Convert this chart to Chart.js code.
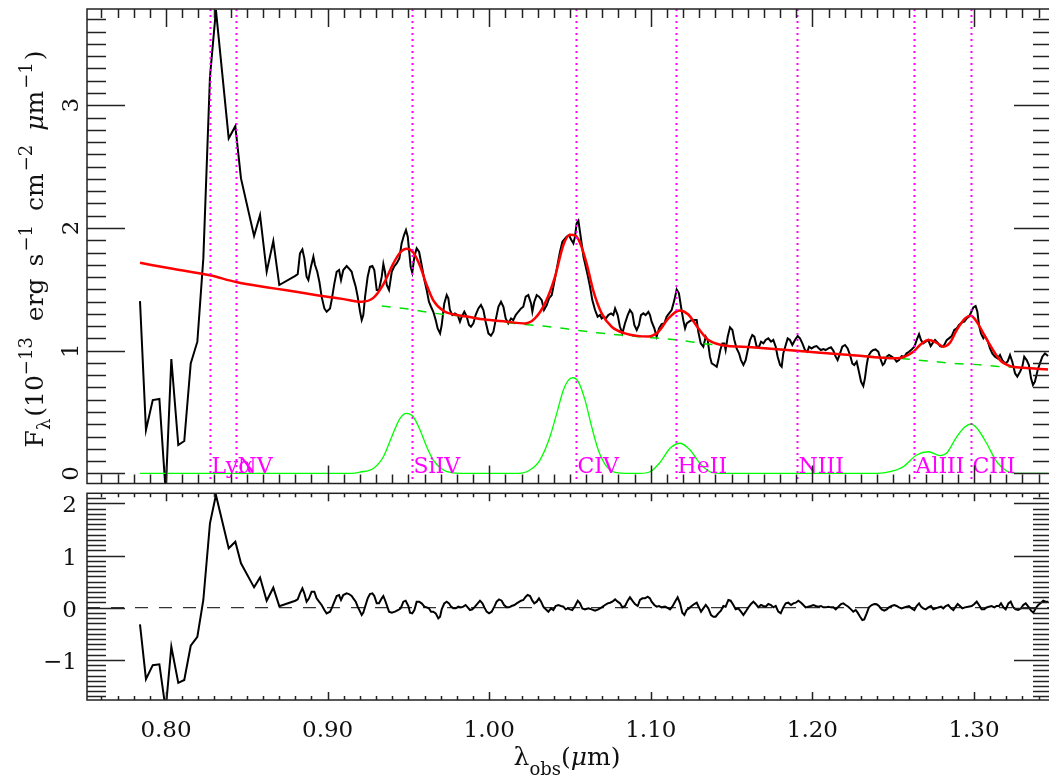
<!DOCTYPE html>
<html>
<head>
<meta charset="utf-8">
<title>Spectrum fit</title>
<script src="https://cdn.jsdelivr.net/npm/chart.js@4.4.0/dist/chart.umd.min.js"></script>
<style>
  html, body { margin: 0; padding: 0; background: #fff; width: 1049px; height: 780px; overflow: hidden; }
  canvas.panel { position: absolute; left: 0; top: 0; }
</style>
</head>
<body>
<canvas id="specChart" class="panel" width="1056" height="780"></canvas>
<canvas id="residChart" class="panel" width="1056" height="780"></canvas>
<script>
/* ---- observed spectrum (micron, 1e-13 erg/s/cm2/um) ---- */
const specWave = [
  0.7839,0.7876,0.7918,0.7959,0.7998,0.8033,0.8076,0.8113,0.8153,0.8194,
  0.8231,0.8272,0.8309,0.8388,0.8429,0.8464,0.8545,0.8582,0.8623,0.8664,
  0.8701,0.8800,0.8815,0.8829,0.8844,0.8856,0.8870,0.8881,0.8897,0.8912,
  0.8922,0.8936,0.8949,0.8963,0.8980,0.8994,0.9015,0.9025,0.9042,0.9056,
  0.9071,0.9083,0.9097,0.9118,0.9132,0.9149,0.9159,0.9174,0.9186,0.9201,
  0.9211,0.9221,0.9232,0.9248,0.9262,0.9277,0.9289,0.9304,0.9318,0.9335,
  0.9345,0.9355,0.9366,0.9380,0.9397,0.9411,0.9427,0.9444,0.9458,0.9473,
  0.9485,0.9496,0.9504,0.9514,0.9524,0.9537,0.9551,0.9566,0.9582,0.9599,
  0.9613,0.9627,0.9640,0.9654,0.9669,0.9681,0.9696,0.9706,0.9722,0.9737,
  0.9747,0.9757,0.9772,0.9788,0.9805,0.9819,0.9830,0.9846,0.9861,0.9875,
  0.9887,0.9902,0.9916,0.9933,0.9949,0.9964,0.9978,0.9995,1.0011,1.0026,
  1.0040,1.0057,1.0073,1.0088,1.0102,1.0118,1.0135,1.0149,1.0164,1.0180,
  1.0197,1.0211,1.0226,1.0242,1.0259,1.0267,1.0279,1.0294,1.0308,1.0325,
  1.0339,1.0356,1.0370,1.0387,1.0397,1.0411,1.0428,1.0438,1.0453,1.0465,
  1.0479,1.0494,1.0506,1.0521,1.0531,1.0541,1.0552,1.0562,1.0572,1.0583,
  1.0593,1.0609,1.0624,1.0638,1.0655,1.0671,1.0686,1.0696,1.0710,1.0723,
  1.0737,1.0754,1.0768,1.0779,1.0795,1.0809,1.0824,1.0840,1.0857,1.0871,
  1.0886,1.0898,1.0913,1.0927,1.0939,1.0954,1.0968,1.0985,1.0995,1.1005,
  1.1022,1.1036,1.1051,1.1067,1.1084,1.1098,1.1113,1.1129,1.1146,1.1160,
  1.1174,1.1187,1.1201,1.1212,1.1222,1.1237,1.1253,1.1270,1.1284,1.1294,
  1.1309,1.1325,1.1340,1.1352,1.1366,1.1377,1.1393,1.1408,1.1418,1.1430,
  1.1443,1.1455,1.1463,1.1476,1.1490,1.1505,1.1517,1.1531,1.1546,1.1558,
  1.1573,1.1587,1.1600,1.1614,1.1628,1.1641,1.1655,1.1670,1.1682,1.1697,
  1.1711,1.1727,1.1744,1.1758,1.1773,1.1785,1.1800,1.1810,1.1820,1.1835,
  1.1847,1.1861,1.1876,1.1892,1.1909,1.1923,1.1938,1.1954,1.1969,1.1979,
  1.1995,1.2012,1.2026,1.2041,1.2053,1.2068,1.2082,1.2099,1.2115,1.2130,
  1.2144,1.2156,1.2171,1.2185,1.2202,1.2218,1.2233,1.2247,1.2259,1.2274,
  1.2288,1.2301,1.2315,1.2325,1.2336,1.2346,1.2363,1.2377,1.2391,1.2408,
  1.2424,1.2435,1.2445,1.2460,1.2474,1.2491,1.2507,1.2521,1.2536,1.2552,
  1.2569,1.2583,1.2598,1.2614,1.2631,1.2645,1.2660,1.2672,1.2686,1.2701,
  1.2717,1.2732,1.2746,1.2759,1.2775,1.2790,1.2800,1.2816,1.2831,1.2845,
  1.2862,1.2878,1.2893,1.2907,1.2924,1.2940,1.2955,1.2969,1.2981,1.2996,
  1.3010,1.3021,1.3031,1.3043,1.3058,1.3068,1.3083,1.3099,1.3113,1.3130,
  1.3146,1.3161,1.3175,1.3192,1.3208,1.3223,1.3237,1.3254,1.3268,1.3285,
  1.3299,1.3311,1.3326,1.3340,1.3353,1.3365,1.3377,1.3394,1.3408,1.3423,
  1.3439,1.3458
];
const specFlux = [
  1.404,0.353,0.597,0.606,-0.15,0.932,0.231,0.263,0.896,1.073,
  1.752,3.232,3.776,2.730,2.830,2.404,1.934,2.105,1.643,1.893,
  1.535,1.610,1.624,1.793,1.825,1.752,1.603,1.575,1.684,1.766,
  1.698,1.643,1.562,1.440,1.344,1.317,1.344,1.412,1.548,1.643,
  1.657,1.575,1.657,1.690,1.670,1.643,1.589,1.521,1.440,1.317,
  1.249,1.290,1.440,1.603,1.684,1.690,1.657,1.494,1.494,1.603,
  1.706,1.643,1.535,1.494,1.643,1.684,1.711,1.752,1.874,1.942,
  1.983,1.929,1.820,1.684,1.635,1.766,1.834,1.806,1.698,1.575,
  1.494,1.399,1.358,1.317,1.249,1.181,1.141,1.209,1.385,1.453,
  1.426,1.331,1.290,1.304,1.290,1.236,1.277,1.317,1.277,1.209,
  1.195,1.222,1.290,1.344,1.372,1.331,1.236,1.141,1.122,1.154,
  1.249,1.358,1.399,1.358,1.263,1.222,1.263,1.249,1.290,1.317,
  1.344,1.358,1.440,1.453,1.385,1.317,1.399,1.453,1.440,1.412,
  1.331,1.372,1.426,1.453,1.521,1.616,1.738,1.806,1.888,1.907,
  1.929,1.942,1.907,1.874,1.929,2.037,2.059,1.969,1.874,1.766,
  1.711,1.616,1.521,1.412,1.331,1.277,1.290,1.263,1.277,1.263,
  1.290,1.304,1.290,1.344,1.290,1.195,1.141,1.222,1.290,1.331,
  1.304,1.209,1.168,1.209,1.290,1.304,1.290,1.317,1.290,1.236,
  1.181,1.114,1.181,1.217,1.222,1.277,1.304,1.331,1.412,1.499,
  1.467,1.358,1.249,1.181,1.222,1.236,1.249,1.249,1.249,1.154,
  1.059,1.032,1.114,1.087,0.951,0.896,0.883,0.869,0.923,1.005,
  1.059,1.059,1.005,1.114,1.190,1.168,1.087,1.018,0.978,0.923,
  0.883,0.923,1.005,1.087,1.127,1.114,1.032,1.032,1.073,1.059,
  1.087,1.100,1.073,1.087,1.032,0.951,0.883,0.869,0.978,1.046,
  1.100,1.087,1.046,1.086,1.119,1.100,1.059,1.005,0.991,1.032,
  1.018,1.032,1.037,1.018,1.005,1.013,1.005,1.018,1.027,0.999,
  0.951,0.923,0.978,1.032,1.046,1.018,0.964,0.896,0.883,0.910,
  0.828,0.747,0.712,0.774,0.883,0.956,0.991,1.005,1.010,0.991,
  0.923,0.883,0.896,0.951,0.964,0.951,0.937,0.910,0.923,0.956,
  0.951,0.978,0.991,1.010,1.032,1.086,1.135,1.086,1.059,1.073,
  1.086,1.037,1.065,1.086,1.065,1.037,1.032,1.046,1.086,1.100,
  1.119,1.168,1.181,1.209,1.228,1.236,1.263,1.277,1.309,1.353,
  1.364,1.317,1.209,1.141,1.100,1.119,1.086,1.018,0.978,0.951,
  0.937,0.964,0.923,0.896,0.910,0.964,0.910,0.815,0.788,0.828,
  0.869,0.951,0.923,0.883,0.774,0.720,0.747,0.842,0.896,0.951,
  0.978,0.956
];

/* ---- full model: continuum + broad lines ---- */
const modelWave = [
  0.7839,0.8050,0.8272,0.8433,0.8630,0.8736,0.8943,0.9100,0.9211,0.9283,
  0.9345,0.9407,0.9448,0.9489,0.9530,0.9572,0.9613,0.9654,0.9716,0.9798,
  0.9871,0.9963,1.0108,1.0222,1.0283,1.0345,1.0407,1.0459,1.0500,1.0531,
  1.0562,1.0603,1.0644,1.0696,1.0758,1.0840,1.0985,1.1047,1.1109,1.1177,
  1.1232,1.1294,1.1357,1.1439,1.1624,1.1903,1.2233,1.2522,1.2625,1.2666,
  1.2718,1.2769,1.2810,1.2851,1.2893,1.2945,1.2980,1.3017,1.3058,1.3099,
  1.3161,1.3223,1.3305,1.3458
];
const modelFlux = [
  1.716,1.665,1.614,1.559,1.515,1.494,1.450,1.420,1.399,1.430,
  1.540,1.711,1.798,1.830,1.800,1.690,1.535,1.410,1.325,1.290,
  1.276,1.255,1.236,1.222,1.263,1.385,1.602,1.861,1.945,1.940,
  1.880,1.710,1.490,1.304,1.195,1.141,1.115,1.154,1.263,1.328,
  1.295,1.182,1.086,1.046,1.028,0.999,0.964,0.937,0.991,1.046,
  1.086,1.064,1.032,1.064,1.168,1.263,1.285,1.236,1.141,1.046,
  0.923,0.874,0.861,0.847
];

/* ---- power-law continuum ---- */
const contWave = [
  0.9335,0.9500,0.9665,0.9840,1.0159,1.0335,1.0500,1.0665,1.1005,1.1170,
  1.1346,1.1600,1.1900,1.2233,1.2542,1.2717,1.2882,1.3052,1.3134,1.3300,
  1.3458
];
const contFlux = [
  1.363,1.339,1.304,1.280,1.222,1.200,1.174,1.146,1.105,1.087,
  1.054,1.030,0.999,0.964,0.937,0.915,0.896,0.883,0.872,0.860,
  0.847
];

/* ---- individual emission-line gaussians ---- */
const gaussWave = [
  0.7839,0.9150,0.9200,0.9283,0.9345,0.9397,0.9448,0.9489,0.9530,0.9572,
  0.9613,0.9654,0.9716,0.9778,0.9850,1.0180,1.0252,1.0314,1.0376,1.0418,
  1.0459,1.0490,1.0517,1.0551,1.0593,1.0634,1.0675,1.0727,1.0789,1.0850,
  1.0930,1.0995,1.1057,1.1119,1.1181,1.1243,1.1304,1.1366,1.1430,1.2400,
  1.2480,1.2562,1.2645,1.2718,1.2790,1.2831,1.2893,1.2945,1.2982,1.3027,
  1.3078,1.3140,1.3202,1.3263,1.3458
];
const gaussFlux = [
  0,0,0.010,0.040,0.135,0.298,0.448,0.489,0.461,0.353,
  0.217,0.108,0.027,0.004,0,0,0.027,0.108,0.298,0.489,
  0.679,0.760,0.779,0.747,0.597,0.380,0.190,0.054,0.005,0,
  0,0.013,0.088,0.204,0.245,0.190,0.081,0.013,0,0,
  0.013,0.054,0.149,0.176,0.145,0.165,0.298,0.380,0.402,0.353,
  0.245,0.095,0.019,0,0
];

/* ---- residuals (data - model) ---- */
const residWave = [
  0.7839,0.7876,0.7918,0.7959,0.7998,0.8033,0.8076,0.8113,0.8153,0.8194,
  0.8231,0.8272,0.8309,0.8388,0.8429,0.8464,0.8545,0.8582,0.8623,0.8664,
  0.8701,0.8800,0.8815,0.8829,0.8844,0.8856,0.8870,0.8885,0.8901,0.8918,
  0.8932,0.8947,0.8963,0.8980,0.8994,0.9015,0.9025,0.9042,0.9056,0.9071,
  0.9083,0.9097,0.9118,0.9132,0.9149,0.9159,0.9174,0.9186,0.9201,0.9211,
  0.9221,0.9232,0.9248,0.9262,0.9277,0.9289,0.9304,0.9318,0.9335,0.9345,
  0.9355,0.9366,0.9380,0.9397,0.9417,0.9438,0.9452,0.9469,0.9483,0.9500,
  0.9510,0.9524,0.9537,0.9551,0.9566,0.9582,0.9599,0.9613,0.9627,0.9640,
  0.9654,0.9669,0.9685,0.9696,0.9706,0.9722,0.9737,0.9751,0.9764,0.9778,
  0.9793,0.9809,0.9825,0.9840,0.9854,0.9867,0.9881,0.9896,0.9912,0.9929,
  0.9943,0.9958,0.9970,0.9984,0.9999,1.0015,1.0032,1.0046,1.0061,1.0077,
  1.0092,1.0108,1.0123,1.0139,1.0156,1.0170,1.0180,1.0197,1.0211,1.0226,
  1.0238,1.0253,1.0267,1.0279,1.0294,1.0308,1.0321,1.0335,1.0350,1.0366,
  1.0383,1.0397,1.0411,1.0428,1.0444,1.0459,1.0473,1.0486,1.0500,1.0514,
  1.0531,1.0548,1.0562,1.0576,1.0593,1.0614,1.0634,1.0655,1.0675,1.0696,
  1.0717,1.0733,1.0748,1.0762,1.0779,1.0795,1.0810,1.0824,1.0841,1.0857,
  1.0871,1.0886,1.0902,1.0919,1.0933,1.0948,1.0964,1.0981,1.0995,1.1005,
  1.1022,1.1036,1.1051,1.1067,1.1088,1.1109,1.1119,1.1133,1.1150,1.1166,
  1.1181,1.1195,1.1208,1.1222,1.1236,1.1253,1.1269,1.1284,1.1298,1.1311,
  1.1325,1.1340,1.1356,1.1373,1.1387,1.1401,1.1418,1.1434,1.1449,1.1463,
  1.1480,1.1494,1.1511,1.1525,1.1542,1.1558,1.1573,1.1587,1.1604,1.1620,
  1.1635,1.1649,1.1665,1.1682,1.1696,1.1711,1.1727,1.1744,1.1758,1.1773,
  1.1789,1.1804,1.1820,1.1835,1.1851,1.1868,1.1882,1.1897,1.1913,1.1930,
  1.1944,1.1958,1.1975,1.1991,1.2006,1.2020,1.2037,1.2053,1.2068,1.2082,
  1.2099,1.2115,1.2130,1.2144,1.2161,1.2177,1.2191,1.2206,1.2222,1.2239,
  1.2253,1.2268,1.2280,1.2295,1.2309,1.2321,1.2336,1.2350,1.2367,1.2383,
  1.2398,1.2412,1.2429,1.2445,1.2460,1.2474,1.2490,1.2507,1.2521,1.2536,
  1.2552,1.2569,1.2583,1.2598,1.2614,1.2631,1.2645,1.2660,1.2672,1.2686,
  1.2701,1.2717,1.2734,1.2748,1.2763,1.2779,1.2796,1.2810,1.2825,1.2841,
  1.2858,1.2872,1.2887,1.2899,1.2913,1.2928,1.2944,1.2965,1.2986,1.3002,
  1.3017,1.3031,1.3047,1.3064,1.3078,1.3093,1.3109,1.3126,1.3140,1.3155,
  1.3167,1.3182,1.3196,1.3213,1.3227,1.3243,1.3258,1.3274,1.3291,1.3305,
  1.3320,1.3336,1.3353,1.3367,1.3382,1.3398,1.3415,1.3429,1.3443,1.3460
];
const residFlux = [
  -0.318,-1.37,-1.10,-1.085,-1.95,-0.747,-1.44,-1.385,-0.728,-0.556,
  0.148,1.617,2.16,1.138,1.264,0.85,0.39,0.58,0.134,0.383,
  0.03,0.134,0.160,0.275,0.371,0.275,0.116,0.179,0.307,0.307,
  0.179,0.116,0.052,-0.044,-0.108,-0.076,-0.012,0.116,0.224,0.243,
  0.148,0.243,0.275,0.262,0.224,0.179,0.116,0.020,-0.076,-0.140,
  -0.095,0.020,0.179,0.262,0.275,0.224,0.084,0.084,0.179,0.224,
  0.148,0.052,-0.076,-0.095,-0.076,-0.044,-0.012,0.116,0.135,0.033,
  -0.095,-0.108,-0.044,0.116,0.116,0.084,0.020,0.007,-0.012,-0.076,
  -0.076,-0.108,-0.204,-0.172,-0.031,0.084,0.116,0.084,0.020,-0.012,
  -0.012,0.020,0.007,0.020,0.052,0.007,-0.044,-0.031,0.020,0.084,
  0.135,0.084,0.007,-0.076,-0.108,-0.076,0.020,0.116,0.160,0.135,
  0.052,0.007,0.007,0.033,0.052,0.084,0.103,0.135,0.148,0.211,
  0.243,0.224,0.135,0.084,0.116,0.179,0.116,0.020,-0.031,-0.076,
  -0.012,-0.044,0.033,0.052,0.033,0.020,-0.031,-0.012,-0.031,-0.044,
  0.033,0.135,0.084,-0.012,-0.031,-0.012,-0.031,-0.057,-0.031,0.007,
  0.052,0.084,0.096,0.116,0.160,0.116,0.084,0.007,0.033,0.135,
  0.199,0.135,0.071,0.033,0.148,0.179,0.179,0.211,0.179,0.116,
  0.052,0.020,0.033,0.007,0.020,-0.012,-0.031,0.020,0.116,0.199,
  0.084,-0.095,-0.140,-0.044,-0.012,0.033,0.071,0.096,0.007,-0.076,
  -0.012,0.052,-0.012,-0.140,-0.172,-0.172,-0.108,-0.057,0.033,0.020,
  0.148,0.135,0.052,-0.031,-0.012,-0.076,-0.140,-0.076,0.007,0.071,
  0.116,0.071,0.007,0.052,0.033,0.020,0.071,0.052,0.007,0.033,
  -0.076,-0.108,0.007,0.084,0.096,0.052,0.084,0.096,0.135,0.096,
  0.052,0.007,0.020,0.033,0.052,0.033,0.020,0.033,0.007,0.007,
  0.020,0.007,0.007,-0.031,0.020,0.071,0.084,0.052,0.020,-0.031,
  -0.076,-0.044,-0.095,-0.172,-0.236,-0.223,-0.108,0.007,0.052,0.071,
  0.065,0.033,-0.031,-0.057,-0.031,0.007,0.033,0.052,0.033,0.007,
  -0.012,0.007,0.020,0.033,-0.012,-0.044,0.033,0.084,0.020,-0.012,
  -0.031,0.007,0.033,-0.031,-0.012,0.007,0.020,-0.012,0.033,0.052,
  -0.012,-0.044,0.020,0.071,0.033,-0.012,0.007,0.020,0.033,0.071,
  0.116,0.052,-0.031,-0.031,0.007,0.020,0.033,0.007,0.033,0.033,
  0.084,0.007,-0.031,0.084,0.116,0.007,-0.031,-0.044,-0.012,0.052,
  0.084,0.020,-0.057,-0.095,-0.012,0.052,0.096,0.135,0.116,0.116
];

/* ---- line identifications (observed wavelength) ---- */
const lineNames = ["Lyα", "NV", "SiIV", "CIV", "HeII", "NIII", "AlIII", "CIII"];
const lineWaves = [0.8272, 0.8433, 0.9524, 1.0537, 1.1158, 1.1902, 1.2631, 1.2980];

/* ---- axes ---- */
const xTickVals = [0.8, 0.9, 1.0, 1.1, 1.2, 1.3];
const xTickLabels = ["0.80", "0.90", "1.00", "1.10", "1.20", "1.30"];
const fluxTickVals = [0, 1, 2, 3];
const fluxTickLabels = ["0", "1", "2", "3"];
const residTickVals = [-1, 0, 1, 2];
const residTickLabels = ["−1", "0", "1", "2"];

const X_MIN = 0.75111, X_MAX = 1.34827;
const SERIF = '"DejaVu Serif", "Liberation Serif", serif';

const pts = (xs, ys) => xs.map((x, i) => ({ x, y: ys[i] }));

function fontFor(p) {
  return `${p.italic ? "italic " : ""}${p.size}px ${SERIF}`;
}

// text with sub/superscripts, centred on (cx, cy) along its baseline
function drawRich(ctx, parts, cx, cy, angle) {
  let total = 0;
  parts.forEach((p) => {
    ctx.font = fontFor(p);
    total += (p.gap || 0) + ctx.measureText(p.t).width;
  });
  ctx.save();
  ctx.translate(cx, cy);
  ctx.rotate(angle);
  ctx.textAlign = "left";
  ctx.textBaseline = "alphabetic";
  let u = -total / 2;
  parts.forEach((p) => {
    ctx.font = fontFor(p);
    u += p.gap || 0;
    ctx.fillText(p.t, u, p.dy || 0);
    u += ctx.measureText(p.t).width;
  });
  ctx.restore();
}

const yTitleParts = [
  { t: "F", size: 25 },
  { t: "λ", size: 18, dy: 7 },
  { t: "(10", size: 25, gap: 2 },
  { t: "−13", size: 18, dy: -11 },
  { t: "erg", size: 25, gap: 16 },
  { t: "s", size: 25, gap: 12 },
  { t: "−1", size: 18, dy: -11, gap: 2 },
  { t: "cm", size: 25, gap: 14 },
  { t: "−2", size: 18, dy: -11, gap: 2 },
  { t: "μ", size: 25, italic: true, gap: 14 },
  { t: "m", size: 25 },
  { t: "−1", size: 18, dy: -11, gap: 2 },
  { t: ")", size: 25, gap: 2 },
];
const xTitleParts = [
  { t: "λ", size: 25 },
  { t: "obs", size: 18, dy: 10 },
  { t: "(", size: 25 },
  { t: "μ", size: 25, italic: true },
  { t: "m)", size: 25 },
];

// box + inward ticks on all four sides, IDL style
function framePlugin(cfg) {
  return {
    id: "frameTicks",
    afterDatasetsDraw(chart) {
      if (cfg.overlay) cfg.overlay(chart);
    },
    afterDraw(chart) {
      const { ctx, chartArea: a } = chart;
      const xs = chart.scales.x, ys = chart.scales.y;
      ctx.save();
      ctx.strokeStyle = "#222";
      ctx.lineWidth = 1.5;
      ctx.setLineDash([]);
      ctx.strokeRect(a.left, a.top, a.right - a.left, a.bottom - a.top);
      ctx.beginPath();
      for (let i = Math.ceil(xs.min * 100); i <= Math.floor(xs.max * 100); i++) {
        const px = Math.round(xs.getPixelForValue(i / 100)) + 0.5;
        const len = i % 10 === 0 ? cfg.xMajor : cfg.xMinor;
        ctx.moveTo(px, a.bottom);
        ctx.lineTo(px, a.bottom - len);
        ctx.moveTo(px, a.top);
        ctx.lineTo(px, a.top + len);
      }
      for (let i = Math.ceil(ys.min * 10); i <= Math.floor(ys.max * 10); i++) {
        const py = Math.round(ys.getPixelForValue(i / 10)) + 0.5;
        const len = i % 10 === 0 ? cfg.yMajor : cfg.yMinor;
        ctx.moveTo(a.left, py);
        ctx.lineTo(a.left + len, py);
        ctx.moveTo(a.right, py);
        ctx.lineTo(a.right - len, py);
      }
      ctx.stroke();
      ctx.fillStyle = "#111";
      cfg.labels(chart);
      ctx.restore();
    },
  };
}

const baseOptions = (padding, yMin, yMax) => ({
  responsive: false,
  animation: false,
  devicePixelRatio: 1,
  events: [],
  layout: { padding },
  plugins: { legend: { display: false }, tooltip: { enabled: false } },
  elements: { point: { radius: 0 } },
  scales: {
    x: { type: "linear", min: X_MIN, max: X_MAX, display: false },
    y: { type: "linear", min: yMin, max: yMax, display: false },
  },
});

/* ---- upper panel: spectrum and fit ---- */
new Chart(document.getElementById("specChart"), {
  type: "line",
  data: {
    datasets: [
      { data: pts(gaussWave, gaussFlux), borderColor: "#00ff00", borderWidth: 1.3, cubicInterpolationMode: "monotone" },
      { data: pts(modelWave, modelFlux), borderColor: "#ff0000", borderWidth: 2.5, cubicInterpolationMode: "monotone" },
      { data: pts(contWave, contFlux), borderColor: "#00e000", borderWidth: 1.5, borderDash: [9, 9], cubicInterpolationMode: "monotone" },
      { data: pts(specWave, specFlux), borderColor: "#000", borderWidth: 2, tension: 0 },
    ],
  },
  options: baseOptions({ left: 87, right: 4, top: 9, bottom: 296.5 }, -0.083, 3.785),
  plugins: [
    framePlugin({
      xMajor: 18, xMinor: 9, yMajor: 38, yMinor: 19,
      overlay(chart) {
        const { ctx, chartArea: a } = chart;
        const xs = chart.scales.x, ys = chart.scales.y;
        ctx.save();
        ctx.strokeStyle = "#ff00ff";
        ctx.fillStyle = "#ff00ff";
        ctx.lineWidth = 2;
        ctx.setLineDash([2, 4]);
        ctx.font = `22px ${SERIF}`;
        ctx.textAlign = "left";
        ctx.textBaseline = "alphabetic";
        lineWaves.forEach((w, i) => {
          const px = Math.round(xs.getPixelForValue(w)) + 0.5;
          ctx.beginPath();
          ctx.moveTo(px, a.top);
          ctx.lineTo(px, a.bottom);
          ctx.stroke();
          ctx.fillText(lineNames[i], px + 1, ys.getPixelForValue(0));
        });
        ctx.restore();
      },
      labels(chart) {
        const { ctx } = chart;
        const ys = chart.scales.y;
        ctx.font = `23px ${SERIF}`;
        ctx.textAlign = "center";
        ctx.textBaseline = "alphabetic";
        fluxTickVals.forEach((v, i) => {
          ctx.save();
          ctx.translate(78, ys.getPixelForValue(v));
          ctx.rotate(-Math.PI / 2);
          ctx.fillText(fluxTickLabels[i], 0, 0);
          ctx.restore();
        });
        drawRich(ctx, yTitleParts, 43, 249, -Math.PI / 2);
      },
    }),
  ],
});

/* ---- lower panel: residuals ---- */
new Chart(document.getElementById("residChart"), {
  type: "line",
  data: {
    datasets: [
      { data: pts(residWave, residFlux), borderColor: "#000", borderWidth: 2, tension: 0 },
      { data: [{ x: X_MIN, y: 0 }, { x: X_MAX, y: 0 }], borderColor: "#333", borderWidth: 1.3, borderDash: [13, 11] },
    ],
  },
  options: baseOptions({ left: 87, right: 4, top: 493.3, bottom: 80 }, -1.768, 2.192),
  plugins: [
    framePlugin({
      xMajor: 8, xMinor: 4, yMajor: 38, yMinor: 19,
      labels(chart) {
        const { ctx } = chart;
        const xs = chart.scales.x, ys = chart.scales.y;
        ctx.font = `23px ${SERIF}`;
        ctx.textBaseline = "alphabetic";
        ctx.textAlign = "right";
        residTickVals.forEach((v, i) => {
          ctx.fillText(residTickLabels[i], 77, ys.getPixelForValue(v) + 9);
        });
        ctx.textAlign = "center";
        xTickVals.forEach((v, i) => {
          ctx.fillText(xTickLabels[i], xs.getPixelForValue(v), 737);
        });
        drawRich(ctx, xTitleParts, 567, 765, 0);
      },
    }),
  ],
});
</script>
</body>
</html>
